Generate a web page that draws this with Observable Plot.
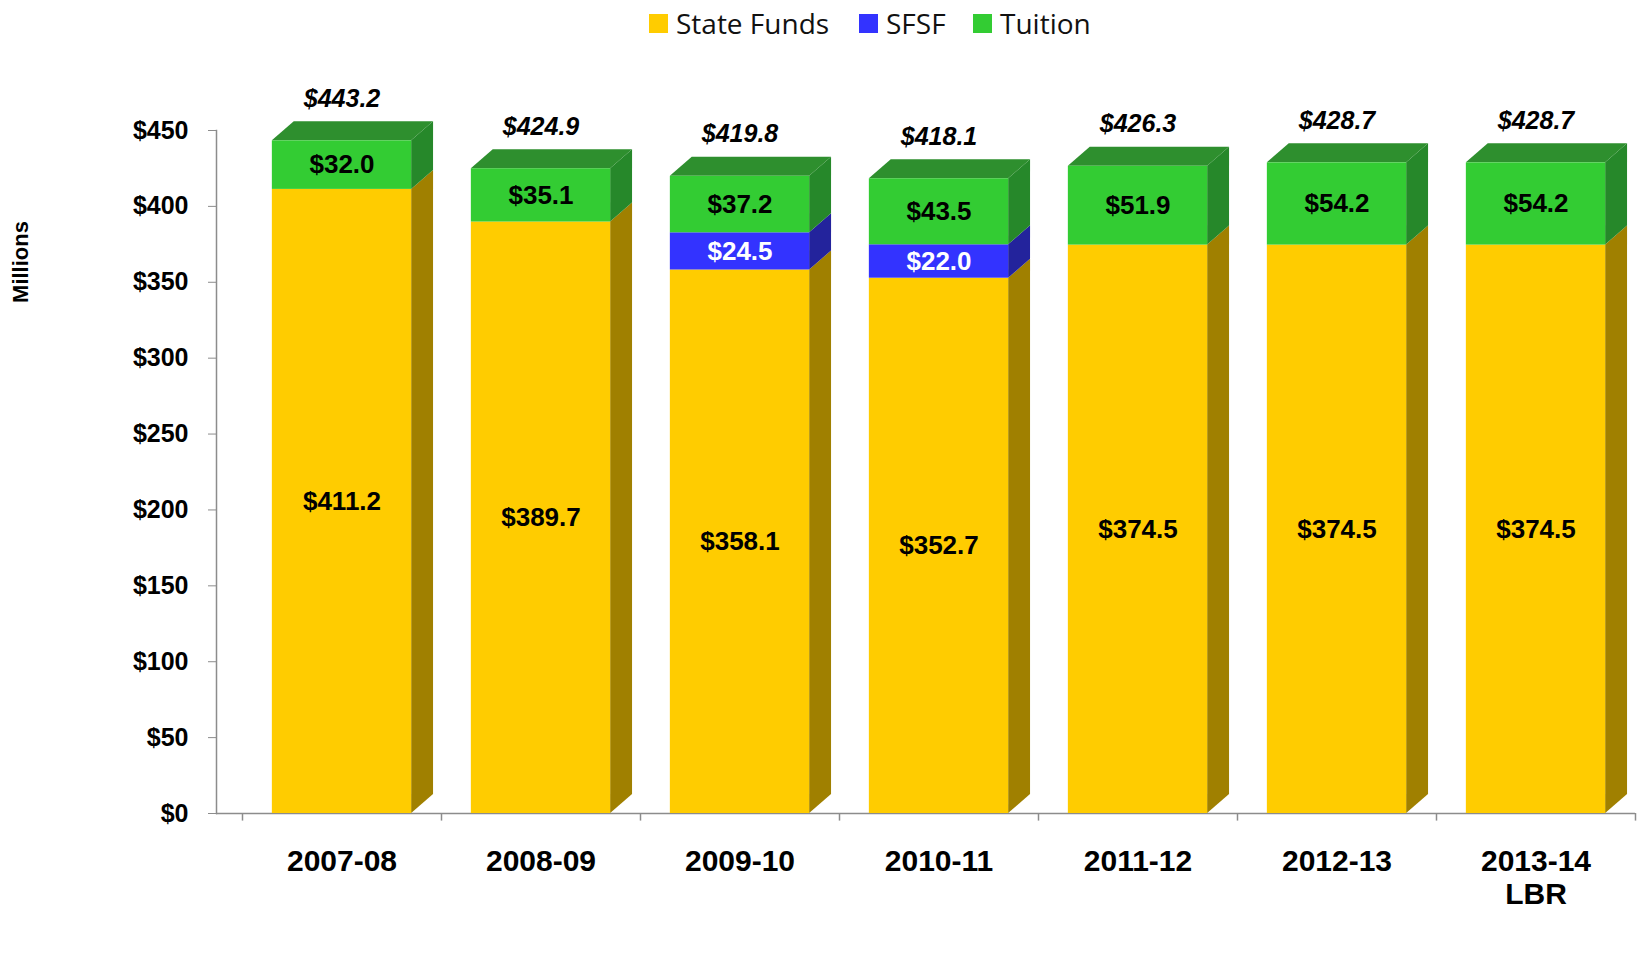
<!DOCTYPE html>
<html>
<head>
<meta charset="utf-8">
<script src="https://cdn.jsdelivr.net/npm/d3@7"></script>
<script src="https://cdn.jsdelivr.net/npm/@observablehq/plot@0.6"></script>
<style>
  body { margin: 0; background: #fff; font-family: "Liberation Sans", Arial, sans-serif; }
  #wrap { position: relative; width: 1650px; height: 953px; overflow: hidden; }
  #legend { position: relative; height: 50px; }
  .item { position: absolute; top: 4px; display: flex; align-items: center; font-family: "Open Sans", sans-serif; font-size: 28px; color: #111; }
  .sw { width: 19px; height: 19px; margin-right: 8px; }
  #ylab { position: absolute; left: 21px; top: 262px; transform: translate(-50%, -50%) rotate(-90deg);
          font: bold 22px "Liberation Sans", Arial, sans-serif; color: #000; white-space: nowrap; }
</style>
</head>
<body>
<div id="wrap">
  <div id="legend"></div>
  <div id="ylab">Millions</div>
  <div id="chart"></div>
</div>
<script>
// ---- data ----
const years = ["2007-08", "2008-09", "2009-10", "2010-11", "2011-12", "2012-13", "2013-14\nLBR"];
const stateFunds = [411.2, 389.7, 358.1, 352.7, 374.5, 374.5, 374.5];
const sfsf = [0, 0, 24.5, 22.0, 0, 0, 0];
const tuition = [32.0, 35.1, 37.2, 43.5, 51.9, 54.2, 54.2];
const totals = [443.2, 424.9, 419.8, 418.1, 426.3, 428.7, 428.7];
const seriesNames = ["State Funds", "SFSF", "Tuition"];
const seriesColors = ["#FFCC00", "#3333FF", "#33CC33"];
const sideColors = ["#A08000", "#23239C", "#26882A"];
const topColor = "#2E8F2E";
const labelColors = ["#000000", "#FFFFFF", "#000000"];
const yTicks = [0, 50, 100, 150, 200, 250, 300, 350, 400, 450];
const legendX = [649, 859, 973];

// bar geometry (in category units / value units)
const halfWidth = 0.35;
const depthX = 0.11;
const depthY = 12.5;

// ---- legend ----
const legend = document.getElementById("legend");
seriesNames.forEach((s, i) => {
  const it = document.createElement("div");
  it.className = "item";
  it.style.left = legendX[i] + "px";
  it.innerHTML = `<div class="sw" style="background:${seriesColors[i]}"></div><span>${s}</span>`;
  legend.appendChild(it);
});

// ---- stacked rows ----
const seriesValues = [stateFunds, sfsf, tuition];
const rows = [];
const sidePts = [];
const topPts = [];
years.forEach((yr, j) => {
  let base = 0;
  seriesValues.forEach((vals, i) => {
    const v = vals[j];
    if (v > 0) {
      const r = {i: j, series: seriesNames[i], value: v, y1: base, y2: base + v,
                 front: seriesColors[i], side: sideColors[i], label: labelColors[i]};
      rows.push(r);
      const key = j + "-" + i;
      const b = j + halfWidth;
      sidePts.push({key, x: b, y1: base, y2: base + v, c: sideColors[i]});
      sidePts.push({key, x: b + depthX, y1: base + depthY, y2: base + v + depthY, c: sideColors[i]});
    }
    base += v;
  });
  const a = j - halfWidth, b = j + halfWidth, t = base;
  topPts.push({key: j, x: a, y1: t, y2: t});
  topPts.push({key: j, x: a + depthX, y1: t, y2: t + depthY});
  topPts.push({key: j, x: b, y1: t, y2: t + depthY});
  topPts.push({key: j, x: b + depthX, y1: t + depthY, y2: t + depthY});
});
const totalRows = years.map((yr, j) => ({i: j, total: totals[j]}));
const boundaries = d3.range(years.length + 1).map(k => k - 0.5);

const chart = Plot.plot({
  width: 1650,
  height: 903,
  marginLeft: 216,
  marginRight: 15,
  marginTop: 80,
  marginBottom: 140,
  style: {fontFamily: "'Liberation Sans', Arial, sans-serif", fontWeight: "bold", color: "#000", background: "#fff"},
  x: {type: "linear", domain: [-0.5, years.length - 0.5], insetLeft: 26, axis: null},
  y: {domain: [0, 450], axis: null},
  color: {type: "identity"},
  marks: [
    Plot.frame({anchor: "left", stroke: "#8c8c8c", strokeWidth: 1.5}),
    Plot.ruleY([0], {stroke: "#8c8c8c", strokeWidth: 1.5}),
    Plot.ruleX(boundaries, {y1: 0, y2: -5, stroke: "#8c8c8c", strokeWidth: 1.5}),
    Plot.axisY({ticks: yTicks, tickFormat: d => "$" + d, tickSize: 8, tickPadding: 20,
                fontSize: 25, stroke: "#8c8c8c", label: null}),
    Plot.axisX(d3.range(years.length), {tickFormat: i => years[i], tickSize: 0, tickPadding: 34,
                fontSize: 30, lineHeight: 1.1, label: null}),
    // side faces
    Plot.areaY(sidePts, {x: "x", y1: "y1", y2: "y2", z: "key", fill: "c", curve: "linear"}),
    // top faces
    Plot.areaY(topPts, {x: "x", y1: "y1", y2: "y2", z: "key", fill: topColor, curve: "linear"}),
    // front faces
    Plot.rectY(rows, {x1: d => d.i - halfWidth, x2: d => d.i + halfWidth, y1: "y1", y2: "y2", fill: "front"}),
    Plot.text(rows, {x: "i", y: d => (d.y1 + d.y2) / 2, text: d => "$" + d.value.toFixed(1),
                     fill: "label", fontSize: 26}),
    Plot.text(totalRows, {x: "i", y: "total", text: d => "$" + d.total.toFixed(1), dy: -42,
                          fontSize: 25, fontStyle: "italic", fill: "#000"})
  ]
});
document.getElementById("chart").appendChild(chart);
</script>
</body>
</html>
